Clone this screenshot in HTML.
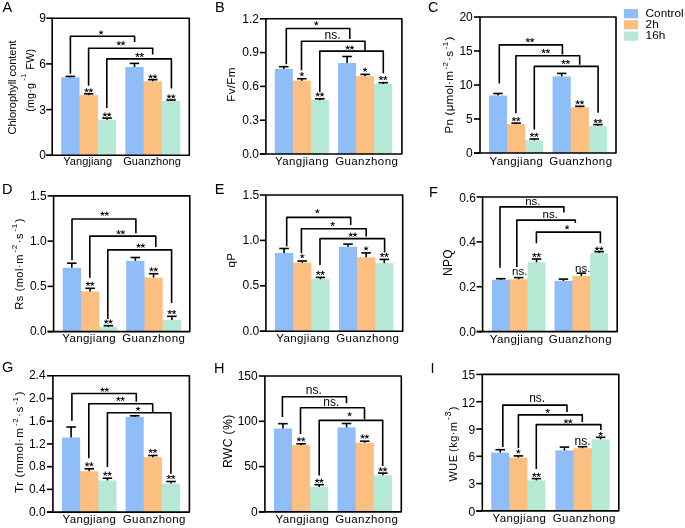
<!DOCTYPE html>
<html><head><meta charset="utf-8"><style>
html,body{margin:0;padding:0;background:#fff;}
svg{display:block;will-change:transform;}
text{font-family:"Liberation Sans", sans-serif;fill:#000;}
</style></head><body>
<svg width="685" height="528" viewBox="0 0 685 528">
<rect width="685" height="528" fill="#fff"/>
<rect x="61.20" y="77.30" width="18.33" height="78.00" fill="#8fbdf7"/>
<rect x="78.53" y="95.10" width="2.00" height="60.20" fill="#8fbdf7"/>
<rect x="79.53" y="95.10" width="18.33" height="60.20" fill="#fdbf80"/>
<rect x="96.86" y="119.70" width="2.00" height="35.60" fill="#fdbf80"/>
<rect x="97.86" y="119.70" width="18.33" height="35.60" fill="#b5e8d5"/>
<rect x="125.30" y="66.90" width="18.33" height="88.40" fill="#8fbdf7"/>
<rect x="142.63" y="81.30" width="2.00" height="74.00" fill="#8fbdf7"/>
<rect x="143.63" y="81.30" width="18.33" height="74.00" fill="#fdbf80"/>
<rect x="160.96" y="101.00" width="2.00" height="54.30" fill="#fdbf80"/>
<rect x="161.96" y="101.00" width="18.33" height="54.30" fill="#b5e8d5"/>
<line x1="70.37" y1="77.30" x2="70.37" y2="76.40" stroke="#000" stroke-width="1.6"/>
<line x1="65.62" y1="76.40" x2="75.12" y2="76.40" stroke="#000" stroke-width="1.6"/>
<line x1="88.69" y1="95.10" x2="88.69" y2="93.80" stroke="#000" stroke-width="1.6"/>
<line x1="83.94" y1="93.80" x2="93.44" y2="93.80" stroke="#000" stroke-width="1.6"/>
<line x1="107.03" y1="119.70" x2="107.03" y2="118.10" stroke="#000" stroke-width="1.6"/>
<line x1="102.28" y1="118.10" x2="111.78" y2="118.10" stroke="#000" stroke-width="1.6"/>
<line x1="134.47" y1="66.90" x2="134.47" y2="63.40" stroke="#000" stroke-width="1.6"/>
<line x1="129.72" y1="63.40" x2="139.22" y2="63.40" stroke="#000" stroke-width="1.6"/>
<line x1="152.79" y1="81.30" x2="152.79" y2="79.70" stroke="#000" stroke-width="1.6"/>
<line x1="148.04" y1="79.70" x2="157.54" y2="79.70" stroke="#000" stroke-width="1.6"/>
<line x1="171.12" y1="101.00" x2="171.12" y2="100.00" stroke="#000" stroke-width="1.6"/>
<line x1="166.37" y1="100.00" x2="175.87" y2="100.00" stroke="#000" stroke-width="1.6"/>
<path d="M46.20 155.30 H189.30 V18.20 H52.20 V155.30" fill="none" stroke="#000" stroke-width="1.6" stroke-linejoin="round" stroke-linecap="butt"/>
<line x1="46.20" y1="155.30" x2="52.20" y2="155.30" stroke="#000" stroke-width="1.6"/>
<text x="45.90" y="159.20" font-size="12.0" text-anchor="end" >0</text>
<line x1="46.20" y1="109.60" x2="52.20" y2="109.60" stroke="#000" stroke-width="1.6"/>
<text x="45.90" y="113.50" font-size="12.0" text-anchor="end" >3</text>
<line x1="46.20" y1="63.90" x2="52.20" y2="63.90" stroke="#000" stroke-width="1.6"/>
<text x="45.90" y="67.80" font-size="12.0" text-anchor="end" >6</text>
<line x1="46.20" y1="18.20" x2="52.20" y2="18.20" stroke="#000" stroke-width="1.6"/>
<text x="45.90" y="22.10" font-size="12.0" text-anchor="end" >9</text>
<path d="M86.54 90.50 L86.54 88.30 M86.54 90.50 L88.64 89.82 M86.54 90.50 L87.84 92.28 M86.54 90.50 L85.25 92.28 M86.54 90.50 L84.45 89.82 " stroke="#000" stroke-width="1.0" fill="none"/>
<path d="M90.84 90.50 L90.84 88.30 M90.84 90.50 L92.94 89.82 M90.84 90.50 L92.14 92.28 M90.84 90.50 L89.55 92.28 M90.84 90.50 L88.75 89.82 " stroke="#000" stroke-width="1.0" fill="none"/>
<path d="M104.88 114.70 L104.88 112.50 M104.88 114.70 L106.97 114.02 M104.88 114.70 L106.17 116.48 M104.88 114.70 L103.58 116.48 M104.88 114.70 L102.78 114.02 " stroke="#000" stroke-width="1.0" fill="none"/>
<path d="M109.18 114.70 L109.18 112.50 M109.18 114.70 L111.27 114.02 M109.18 114.70 L110.47 116.48 M109.18 114.70 L107.88 116.48 M109.18 114.70 L107.08 114.02 " stroke="#000" stroke-width="1.0" fill="none"/>
<path d="M150.64 76.70 L150.64 74.50 M150.64 76.70 L152.74 76.02 M150.64 76.70 L151.94 78.48 M150.64 76.70 L149.35 78.48 M150.64 76.70 L148.55 76.02 " stroke="#000" stroke-width="1.0" fill="none"/>
<path d="M154.94 76.70 L154.94 74.50 M154.94 76.70 L157.04 76.02 M154.94 76.70 L156.24 78.48 M154.94 76.70 L153.65 78.48 M154.94 76.70 L152.85 76.02 " stroke="#000" stroke-width="1.0" fill="none"/>
<path d="M168.97 96.60 L168.97 94.40 M168.97 96.60 L171.07 95.92 M168.97 96.60 L170.27 98.38 M168.97 96.60 L167.68 98.38 M168.97 96.60 L166.88 95.92 " stroke="#000" stroke-width="1.0" fill="none"/>
<path d="M173.27 96.60 L173.27 94.40 M173.27 96.60 L175.37 95.92 M173.27 96.60 L174.57 98.38 M173.27 96.60 L171.98 98.38 M173.27 96.60 L171.18 95.92 " stroke="#000" stroke-width="1.0" fill="none"/>
<path d="M70.40 73.80 V36.30 H134.60 V42.00" fill="none" stroke="#000" stroke-width="1.6" stroke-linejoin="round" stroke-linecap="butt"/>
<path d="M101.10 32.60 L101.10 30.40 M101.10 32.60 L103.19 31.92 M101.10 32.60 L102.39 34.38 M101.10 32.60 L99.81 34.38 M101.10 32.60 L99.01 31.92 " stroke="#000" stroke-width="1.0" fill="none"/>
<path d="M88.60 85.70 V48.20 H152.70 V54.60" fill="none" stroke="#000" stroke-width="1.6" stroke-linejoin="round" stroke-linecap="butt"/>
<path d="M118.85 43.40 L118.85 41.20 M118.85 43.40 L120.94 42.72 M118.85 43.40 L120.14 45.18 M118.85 43.40 L117.56 45.18 M118.85 43.40 L116.76 42.72 " stroke="#000" stroke-width="1.0" fill="none"/>
<path d="M123.15 43.40 L123.15 41.20 M123.15 43.40 L125.24 42.72 M123.15 43.40 L124.44 45.18 M123.15 43.40 L121.86 45.18 M123.15 43.40 L121.06 42.72 " stroke="#000" stroke-width="1.0" fill="none"/>
<path d="M106.80 107.90 V58.90 H171.40 V88.60" fill="none" stroke="#000" stroke-width="1.6" stroke-linejoin="round" stroke-linecap="butt"/>
<path d="M137.45 55.10 L137.45 52.90 M137.45 55.10 L139.54 54.42 M137.45 55.10 L138.74 56.88 M137.45 55.10 L136.16 56.88 M137.45 55.10 L135.36 54.42 " stroke="#000" stroke-width="1.0" fill="none"/>
<path d="M141.75 55.10 L141.75 52.90 M141.75 55.10 L143.84 54.42 M141.75 55.10 L143.04 56.88 M141.75 55.10 L140.46 56.88 M141.75 55.10 L139.66 54.42 " stroke="#000" stroke-width="1.0" fill="none"/>
<text x="87.75" y="165.30" font-size="11.0" text-anchor="middle" letter-spacing="0.1">Yangjiang</text>
<text x="152.05" y="165.30" font-size="11.0" text-anchor="middle" letter-spacing="0.1">Guanzhong</text>
<text x="2.40" y="12.30" font-size="14.5" text-anchor="start" >A</text>
<text x="15.90" y="134.50" font-size="11" text-anchor="start" transform="rotate(-90 15.90 134.50)" letter-spacing="0.0">Chlorophyll content</text>
<text x="34.20" y="111.80" font-size="10.6" text-anchor="start" transform="rotate(-90 34.20 111.80)" letter-spacing="0.25">(mg·g<tspan dx="2.5" dy="-8" font-size="7">-1</tspan><tspan dx="1" dy="8"> FW)</tspan></text>
<rect x="274.80" y="68.90" width="18.03" height="85.10" fill="#8fbdf7"/>
<rect x="291.83" y="80.70" width="2.00" height="73.30" fill="#8fbdf7"/>
<rect x="292.83" y="80.70" width="18.03" height="73.30" fill="#fdbf80"/>
<rect x="309.86" y="100.20" width="2.00" height="53.80" fill="#fdbf80"/>
<rect x="310.86" y="100.20" width="18.03" height="53.80" fill="#b5e8d5"/>
<rect x="338.10" y="63.00" width="18.03" height="91.00" fill="#8fbdf7"/>
<rect x="355.13" y="76.20" width="2.00" height="77.80" fill="#8fbdf7"/>
<rect x="356.13" y="76.20" width="18.03" height="77.80" fill="#fdbf80"/>
<rect x="373.16" y="84.00" width="2.00" height="70.00" fill="#fdbf80"/>
<rect x="374.16" y="84.00" width="18.03" height="70.00" fill="#b5e8d5"/>
<line x1="283.81" y1="68.90" x2="283.81" y2="66.70" stroke="#000" stroke-width="1.6"/>
<line x1="279.06" y1="66.70" x2="288.56" y2="66.70" stroke="#000" stroke-width="1.6"/>
<line x1="301.85" y1="80.70" x2="301.85" y2="78.70" stroke="#000" stroke-width="1.6"/>
<line x1="297.10" y1="78.70" x2="306.60" y2="78.70" stroke="#000" stroke-width="1.6"/>
<line x1="319.88" y1="100.20" x2="319.88" y2="98.80" stroke="#000" stroke-width="1.6"/>
<line x1="315.12" y1="98.80" x2="324.62" y2="98.80" stroke="#000" stroke-width="1.6"/>
<line x1="347.12" y1="63.00" x2="347.12" y2="56.50" stroke="#000" stroke-width="1.6"/>
<line x1="342.37" y1="56.50" x2="351.87" y2="56.50" stroke="#000" stroke-width="1.6"/>
<line x1="365.14" y1="76.20" x2="365.14" y2="74.40" stroke="#000" stroke-width="1.6"/>
<line x1="360.39" y1="74.40" x2="369.89" y2="74.40" stroke="#000" stroke-width="1.6"/>
<line x1="383.18" y1="84.00" x2="383.18" y2="82.70" stroke="#000" stroke-width="1.6"/>
<line x1="378.43" y1="82.70" x2="387.93" y2="82.70" stroke="#000" stroke-width="1.6"/>
<path d="M259.90 154.00 H401.90 V18.80 H265.90 V154.00" fill="none" stroke="#000" stroke-width="1.6" stroke-linejoin="round" stroke-linecap="butt"/>
<line x1="259.90" y1="154.00" x2="265.90" y2="154.00" stroke="#000" stroke-width="1.6"/>
<text x="259.00" y="157.70" font-size="12.0" text-anchor="end" >0.0</text>
<line x1="259.90" y1="120.20" x2="265.90" y2="120.20" stroke="#000" stroke-width="1.6"/>
<text x="259.00" y="123.90" font-size="12.0" text-anchor="end" >0.3</text>
<line x1="259.90" y1="86.40" x2="265.90" y2="86.40" stroke="#000" stroke-width="1.6"/>
<text x="259.00" y="90.10" font-size="12.0" text-anchor="end" >0.6</text>
<line x1="259.90" y1="52.60" x2="265.90" y2="52.60" stroke="#000" stroke-width="1.6"/>
<text x="259.00" y="56.30" font-size="12.0" text-anchor="end" >0.9</text>
<line x1="259.90" y1="18.80" x2="265.90" y2="18.80" stroke="#000" stroke-width="1.6"/>
<text x="259.00" y="22.50" font-size="12.0" text-anchor="end" >1.2</text>
<path d="M301.85 74.30 L301.85 72.10 M301.85 74.30 L303.94 73.62 M301.85 74.30 L303.14 76.08 M301.85 74.30 L300.55 76.08 M301.85 74.30 L299.75 73.62 " stroke="#000" stroke-width="1.0" fill="none"/>
<path d="M317.73 94.60 L317.73 92.40 M317.73 94.60 L319.82 93.92 M317.73 94.60 L319.02 96.38 M317.73 94.60 L316.43 96.38 M317.73 94.60 L315.63 93.92 " stroke="#000" stroke-width="1.0" fill="none"/>
<path d="M322.02 94.60 L322.02 92.40 M322.02 94.60 L324.12 93.92 M322.02 94.60 L323.32 96.38 M322.02 94.60 L320.73 96.38 M322.02 94.60 L319.93 93.92 " stroke="#000" stroke-width="1.0" fill="none"/>
<path d="M365.14 69.80 L365.14 67.60 M365.14 69.80 L367.24 69.12 M365.14 69.80 L366.44 71.58 M365.14 69.80 L363.85 71.58 M365.14 69.80 L363.05 69.12 " stroke="#000" stroke-width="1.0" fill="none"/>
<path d="M381.03 78.20 L381.03 76.00 M381.03 78.20 L383.12 77.52 M381.03 78.20 L382.32 79.98 M381.03 78.20 L379.73 79.98 M381.03 78.20 L378.93 77.52 " stroke="#000" stroke-width="1.0" fill="none"/>
<path d="M385.32 78.20 L385.32 76.00 M385.32 78.20 L387.42 77.52 M385.32 78.20 L386.62 79.98 M385.32 78.20 L384.03 79.98 M385.32 78.20 L383.23 77.52 " stroke="#000" stroke-width="1.0" fill="none"/>
<path d="M286.30 64.30 V28.50 H349.80 V39.10" fill="none" stroke="#000" stroke-width="1.6" stroke-linejoin="round" stroke-linecap="butt"/>
<path d="M316.30 23.50 L316.30 21.30 M316.30 23.50 L318.39 22.82 M316.30 23.50 L317.59 25.28 M316.30 23.50 L315.01 25.28 M316.30 23.50 L314.21 22.82 " stroke="#000" stroke-width="1.0" fill="none"/>
<path d="M301.50 70.30 V41.30 H365.00 V50.50" fill="none" stroke="#000" stroke-width="1.6" stroke-linejoin="round" stroke-linecap="butt"/>
<text x="332.60" y="39.10" font-size="12" text-anchor="middle" >ns.</text>
<path d="M319.80 91.90 V51.10 H383.30 V73.20" fill="none" stroke="#000" stroke-width="1.6" stroke-linejoin="round" stroke-linecap="butt"/>
<path d="M347.65 47.70 L347.65 45.50 M347.65 47.70 L349.74 47.02 M347.65 47.70 L348.94 49.48 M347.65 47.70 L346.36 49.48 M347.65 47.70 L345.56 47.02 " stroke="#000" stroke-width="1.0" fill="none"/>
<path d="M351.95 47.70 L351.95 45.50 M351.95 47.70 L354.04 47.02 M351.95 47.70 L353.24 49.48 M351.95 47.70 L350.66 49.48 M351.95 47.70 L349.86 47.02 " stroke="#000" stroke-width="1.0" fill="none"/>
<text x="302.00" y="165.00" font-size="11.5" text-anchor="middle" letter-spacing="0.4">Yangjiang</text>
<text x="366.70" y="165.00" font-size="11.5" text-anchor="middle" letter-spacing="0.4">Guanzhong</text>
<text x="214.90" y="12.10" font-size="14.5" text-anchor="start" >B</text>
<text x="235.40" y="101.70" font-size="11.6" text-anchor="start" transform="rotate(-90 235.40 101.70)" letter-spacing="0.3">Fv/Fm</text>
<rect x="488.90" y="95.50" width="18.13" height="57.50" fill="#8fbdf7"/>
<rect x="506.03" y="124.20" width="2.00" height="28.80" fill="#8fbdf7"/>
<rect x="507.03" y="124.20" width="18.13" height="28.80" fill="#fdbf80"/>
<rect x="524.16" y="140.40" width="2.00" height="12.60" fill="#fdbf80"/>
<rect x="525.16" y="140.40" width="18.13" height="12.60" fill="#b5e8d5"/>
<rect x="552.60" y="76.40" width="18.13" height="76.60" fill="#8fbdf7"/>
<rect x="569.73" y="107.30" width="2.00" height="45.70" fill="#8fbdf7"/>
<rect x="570.73" y="107.30" width="18.13" height="45.70" fill="#fdbf80"/>
<rect x="587.86" y="126.00" width="2.00" height="27.00" fill="#fdbf80"/>
<rect x="588.86" y="126.00" width="18.13" height="27.00" fill="#b5e8d5"/>
<line x1="497.96" y1="95.50" x2="497.96" y2="93.50" stroke="#000" stroke-width="1.6"/>
<line x1="493.21" y1="93.50" x2="502.71" y2="93.50" stroke="#000" stroke-width="1.6"/>
<line x1="516.10" y1="124.20" x2="516.10" y2="123.10" stroke="#000" stroke-width="1.6"/>
<line x1="511.35" y1="123.10" x2="520.85" y2="123.10" stroke="#000" stroke-width="1.6"/>
<line x1="534.23" y1="140.40" x2="534.23" y2="139.00" stroke="#000" stroke-width="1.6"/>
<line x1="529.48" y1="139.00" x2="538.98" y2="139.00" stroke="#000" stroke-width="1.6"/>
<line x1="561.67" y1="76.40" x2="561.67" y2="73.40" stroke="#000" stroke-width="1.6"/>
<line x1="556.92" y1="73.40" x2="566.42" y2="73.40" stroke="#000" stroke-width="1.6"/>
<line x1="579.80" y1="107.30" x2="579.80" y2="106.30" stroke="#000" stroke-width="1.6"/>
<line x1="575.05" y1="106.30" x2="584.55" y2="106.30" stroke="#000" stroke-width="1.6"/>
<line x1="597.93" y1="126.00" x2="597.93" y2="124.60" stroke="#000" stroke-width="1.6"/>
<line x1="593.18" y1="124.60" x2="602.68" y2="124.60" stroke="#000" stroke-width="1.6"/>
<path d="M474.00 153.00 H616.00 V17.00 H480.00 V153.00" fill="none" stroke="#000" stroke-width="1.6" stroke-linejoin="round" stroke-linecap="butt"/>
<line x1="474.00" y1="153.00" x2="480.00" y2="153.00" stroke="#000" stroke-width="1.6"/>
<text x="472.80" y="156.65" font-size="12.0" text-anchor="end" >0</text>
<line x1="474.00" y1="119.00" x2="480.00" y2="119.00" stroke="#000" stroke-width="1.6"/>
<text x="472.80" y="122.65" font-size="12.0" text-anchor="end" >5</text>
<line x1="474.00" y1="85.00" x2="480.00" y2="85.00" stroke="#000" stroke-width="1.6"/>
<text x="472.80" y="88.65" font-size="12.0" text-anchor="end" >10</text>
<line x1="474.00" y1="51.00" x2="480.00" y2="51.00" stroke="#000" stroke-width="1.6"/>
<text x="472.80" y="54.65" font-size="12.0" text-anchor="end" >15</text>
<line x1="474.00" y1="17.00" x2="480.00" y2="17.00" stroke="#000" stroke-width="1.6"/>
<text x="472.80" y="20.65" font-size="12.0" text-anchor="end" >20</text>
<path d="M513.95 119.30 L513.95 117.10 M513.95 119.30 L516.04 118.62 M513.95 119.30 L515.24 121.08 M513.95 119.30 L512.65 121.08 M513.95 119.30 L511.85 118.62 " stroke="#000" stroke-width="1.0" fill="none"/>
<path d="M518.25 119.30 L518.25 117.10 M518.25 119.30 L520.34 118.62 M518.25 119.30 L519.54 121.08 M518.25 119.30 L516.95 121.08 M518.25 119.30 L516.15 118.62 " stroke="#000" stroke-width="1.0" fill="none"/>
<path d="M532.08 135.00 L532.08 132.80 M532.08 135.00 L534.17 134.32 M532.08 135.00 L533.37 136.78 M532.08 135.00 L530.78 136.78 M532.08 135.00 L529.98 134.32 " stroke="#000" stroke-width="1.0" fill="none"/>
<path d="M536.38 135.00 L536.38 132.80 M536.38 135.00 L538.47 134.32 M536.38 135.00 L537.67 136.78 M536.38 135.00 L535.08 136.78 M536.38 135.00 L534.28 134.32 " stroke="#000" stroke-width="1.0" fill="none"/>
<path d="M577.65 102.50 L577.65 100.30 M577.65 102.50 L579.74 101.82 M577.65 102.50 L578.94 104.28 M577.65 102.50 L576.35 104.28 M577.65 102.50 L575.55 101.82 " stroke="#000" stroke-width="1.0" fill="none"/>
<path d="M581.95 102.50 L581.95 100.30 M581.95 102.50 L584.04 101.82 M581.95 102.50 L583.24 104.28 M581.95 102.50 L580.65 104.28 M581.95 102.50 L579.85 101.82 " stroke="#000" stroke-width="1.0" fill="none"/>
<path d="M595.78 121.20 L595.78 119.00 M595.78 121.20 L597.87 120.52 M595.78 121.20 L597.07 122.98 M595.78 121.20 L594.48 122.98 M595.78 121.20 L593.68 120.52 " stroke="#000" stroke-width="1.0" fill="none"/>
<path d="M600.08 121.20 L600.08 119.00 M600.08 121.20 L602.17 120.52 M600.08 121.20 L601.37 122.98 M600.08 121.20 L598.78 122.98 M600.08 121.20 L597.98 120.52 " stroke="#000" stroke-width="1.0" fill="none"/>
<path d="M499.30 83.40 V44.90 H562.40 V54.50" fill="none" stroke="#000" stroke-width="1.6" stroke-linejoin="round" stroke-linecap="butt"/>
<path d="M527.85 40.30 L527.85 38.10 M527.85 40.30 L529.94 39.62 M527.85 40.30 L529.14 42.08 M527.85 40.30 L526.56 42.08 M527.85 40.30 L525.76 39.62 " stroke="#000" stroke-width="1.0" fill="none"/>
<path d="M532.15 40.30 L532.15 38.10 M532.15 40.30 L534.24 39.62 M532.15 40.30 L533.44 42.08 M532.15 40.30 L530.86 42.08 M532.15 40.30 L530.06 39.62 " stroke="#000" stroke-width="1.0" fill="none"/>
<path d="M515.90 113.20 V55.80 H579.70 V64.70" fill="none" stroke="#000" stroke-width="1.6" stroke-linejoin="round" stroke-linecap="butt"/>
<path d="M543.55 51.30 L543.55 49.10 M543.55 51.30 L545.64 50.62 M543.55 51.30 L544.84 53.08 M543.55 51.30 L542.26 53.08 M543.55 51.30 L541.46 50.62 " stroke="#000" stroke-width="1.0" fill="none"/>
<path d="M547.85 51.30 L547.85 49.10 M547.85 51.30 L549.94 50.62 M547.85 51.30 L549.14 53.08 M547.85 51.30 L546.56 53.08 M547.85 51.30 L545.76 50.62 " stroke="#000" stroke-width="1.0" fill="none"/>
<path d="M534.30 129.40 V66.40 H598.10 V112.80" fill="none" stroke="#000" stroke-width="1.6" stroke-linejoin="round" stroke-linecap="butt"/>
<path d="M563.55 62.10 L563.55 59.90 M563.55 62.10 L565.64 61.42 M563.55 62.10 L564.84 63.88 M563.55 62.10 L562.26 63.88 M563.55 62.10 L561.46 61.42 " stroke="#000" stroke-width="1.0" fill="none"/>
<path d="M567.85 62.10 L567.85 59.90 M567.85 62.10 L569.94 61.42 M567.85 62.10 L569.14 63.88 M567.85 62.10 L566.56 63.88 M567.85 62.10 L565.76 61.42 " stroke="#000" stroke-width="1.0" fill="none"/>
<text x="516.40" y="165.00" font-size="11.5" text-anchor="middle" letter-spacing="0.4">Yangjiang</text>
<text x="580.90" y="165.00" font-size="11.5" text-anchor="middle" letter-spacing="0.4">Guanzhong</text>
<text x="428.00" y="12.40" font-size="14.5" text-anchor="start" >C</text>
<text x="453.30" y="133.60" font-size="11.6" text-anchor="start" transform="rotate(-90 453.30 133.60)" letter-spacing="0.25">Pn (μmol·m<tspan dx="1.5" dy="-5.5" font-size="8">-2</tspan><tspan dx="1" dy="5.5">·s<tspan dx="1.5" dy="-5.5" font-size="8">-1</tspan><tspan dx="1" dy="5.5">)</tspan></tspan></text>
<rect x="62.70" y="267.80" width="18.27" height="63.80" fill="#8fbdf7"/>
<rect x="79.97" y="291.40" width="2.00" height="40.20" fill="#8fbdf7"/>
<rect x="80.97" y="291.40" width="18.27" height="40.20" fill="#fdbf80"/>
<rect x="98.24" y="326.80" width="2.00" height="4.80" fill="#fdbf80"/>
<rect x="99.24" y="326.80" width="18.27" height="4.80" fill="#b5e8d5"/>
<rect x="126.20" y="260.80" width="18.27" height="70.80" fill="#8fbdf7"/>
<rect x="143.47" y="277.60" width="2.00" height="54.00" fill="#8fbdf7"/>
<rect x="144.47" y="277.60" width="18.27" height="54.00" fill="#fdbf80"/>
<rect x="161.74" y="320.00" width="2.00" height="11.60" fill="#fdbf80"/>
<rect x="162.74" y="320.00" width="18.27" height="11.60" fill="#b5e8d5"/>
<line x1="71.84" y1="267.80" x2="71.84" y2="263.20" stroke="#000" stroke-width="1.6"/>
<line x1="67.09" y1="263.20" x2="76.59" y2="263.20" stroke="#000" stroke-width="1.6"/>
<line x1="90.11" y1="291.40" x2="90.11" y2="288.30" stroke="#000" stroke-width="1.6"/>
<line x1="85.36" y1="288.30" x2="94.86" y2="288.30" stroke="#000" stroke-width="1.6"/>
<line x1="108.38" y1="326.80" x2="108.38" y2="325.70" stroke="#000" stroke-width="1.6"/>
<line x1="103.63" y1="325.70" x2="113.13" y2="325.70" stroke="#000" stroke-width="1.6"/>
<line x1="135.34" y1="260.80" x2="135.34" y2="257.50" stroke="#000" stroke-width="1.6"/>
<line x1="130.59" y1="257.50" x2="140.09" y2="257.50" stroke="#000" stroke-width="1.6"/>
<line x1="153.60" y1="277.60" x2="153.60" y2="273.70" stroke="#000" stroke-width="1.6"/>
<line x1="148.85" y1="273.70" x2="158.35" y2="273.70" stroke="#000" stroke-width="1.6"/>
<line x1="171.88" y1="320.00" x2="171.88" y2="316.30" stroke="#000" stroke-width="1.6"/>
<line x1="167.12" y1="316.30" x2="176.62" y2="316.30" stroke="#000" stroke-width="1.6"/>
<path d="M47.60 331.60 H189.80 V195.90 H53.60 V331.60" fill="none" stroke="#000" stroke-width="1.6" stroke-linejoin="round" stroke-linecap="butt"/>
<line x1="47.60" y1="331.60" x2="53.60" y2="331.60" stroke="#000" stroke-width="1.6"/>
<text x="46.60" y="335.20" font-size="12.0" text-anchor="end" >0.0</text>
<line x1="47.60" y1="286.37" x2="53.60" y2="286.37" stroke="#000" stroke-width="1.6"/>
<text x="46.60" y="289.96" font-size="12.0" text-anchor="end" >0.5</text>
<line x1="47.60" y1="241.13" x2="53.60" y2="241.13" stroke="#000" stroke-width="1.6"/>
<text x="46.60" y="244.73" font-size="12.0" text-anchor="end" >1.0</text>
<line x1="47.60" y1="195.90" x2="53.60" y2="195.90" stroke="#000" stroke-width="1.6"/>
<text x="46.60" y="199.50" font-size="12.0" text-anchor="end" >1.5</text>
<path d="M87.95 284.00 L87.95 281.80 M87.95 284.00 L90.05 283.32 M87.95 284.00 L89.25 285.78 M87.95 284.00 L86.66 285.78 M87.95 284.00 L85.86 283.32 " stroke="#000" stroke-width="1.0" fill="none"/>
<path d="M92.26 284.00 L92.26 281.80 M92.26 284.00 L94.35 283.32 M92.26 284.00 L93.55 285.78 M92.26 284.00 L90.96 285.78 M92.26 284.00 L90.16 283.32 " stroke="#000" stroke-width="1.0" fill="none"/>
<path d="M106.23 321.70 L106.23 319.50 M106.23 321.70 L108.32 321.02 M106.23 321.70 L107.52 323.48 M106.23 321.70 L104.93 323.48 M106.23 321.70 L104.13 321.02 " stroke="#000" stroke-width="1.0" fill="none"/>
<path d="M110.53 321.70 L110.53 319.50 M110.53 321.70 L112.62 321.02 M110.53 321.70 L111.82 323.48 M110.53 321.70 L109.23 323.48 M110.53 321.70 L108.43 321.02 " stroke="#000" stroke-width="1.0" fill="none"/>
<path d="M151.45 269.60 L151.45 267.40 M151.45 269.60 L153.55 268.92 M151.45 269.60 L152.75 271.38 M151.45 269.60 L150.16 271.38 M151.45 269.60 L149.36 268.92 " stroke="#000" stroke-width="1.0" fill="none"/>
<path d="M155.75 269.60 L155.75 267.40 M155.75 269.60 L157.85 268.92 M155.75 269.60 L157.05 271.38 M155.75 269.60 L154.46 271.38 M155.75 269.60 L153.66 268.92 " stroke="#000" stroke-width="1.0" fill="none"/>
<path d="M169.72 312.20 L169.72 310.00 M169.72 312.20 L171.82 311.52 M169.72 312.20 L171.02 313.98 M169.72 312.20 L168.43 313.98 M169.72 312.20 L167.63 311.52 " stroke="#000" stroke-width="1.0" fill="none"/>
<path d="M174.03 312.20 L174.03 310.00 M174.03 312.20 L176.12 311.52 M174.03 312.20 L175.32 313.98 M174.03 312.20 L172.73 313.98 M174.03 312.20 L171.93 311.52 " stroke="#000" stroke-width="1.0" fill="none"/>
<path d="M72.00 260.30 V219.00 H135.90 V233.20" fill="none" stroke="#000" stroke-width="1.6" stroke-linejoin="round" stroke-linecap="butt"/>
<path d="M102.45 213.80 L102.45 211.60 M102.45 213.80 L104.54 213.12 M102.45 213.80 L103.74 215.58 M102.45 213.80 L101.16 215.58 M102.45 213.80 L100.36 213.12 " stroke="#000" stroke-width="1.0" fill="none"/>
<path d="M106.75 213.80 L106.75 211.60 M106.75 213.80 L108.84 213.12 M106.75 213.80 L108.04 215.58 M106.75 213.80 L105.46 215.58 M106.75 213.80 L104.66 213.12 " stroke="#000" stroke-width="1.0" fill="none"/>
<path d="M89.80 277.80 V236.10 H155.80 V247.10" fill="none" stroke="#000" stroke-width="1.6" stroke-linejoin="round" stroke-linecap="butt"/>
<path d="M118.55 232.40 L118.55 230.20 M118.55 232.40 L120.64 231.72 M118.55 232.40 L119.84 234.18 M118.55 232.40 L117.26 234.18 M118.55 232.40 L116.46 231.72 " stroke="#000" stroke-width="1.0" fill="none"/>
<path d="M122.85 232.40 L122.85 230.20 M122.85 232.40 L124.94 231.72 M122.85 232.40 L124.14 234.18 M122.85 232.40 L121.56 234.18 M122.85 232.40 L120.76 231.72 " stroke="#000" stroke-width="1.0" fill="none"/>
<path d="M107.80 319.00 V249.90 H171.60 V303.00" fill="none" stroke="#000" stroke-width="1.6" stroke-linejoin="round" stroke-linecap="butt"/>
<path d="M138.55 245.80 L138.55 243.60 M138.55 245.80 L140.64 245.12 M138.55 245.80 L139.84 247.58 M138.55 245.80 L137.26 247.58 M138.55 245.80 L136.46 245.12 " stroke="#000" stroke-width="1.0" fill="none"/>
<path d="M142.85 245.80 L142.85 243.60 M142.85 245.80 L144.94 245.12 M142.85 245.80 L144.14 247.58 M142.85 245.80 L141.56 247.58 M142.85 245.80 L140.76 245.12 " stroke="#000" stroke-width="1.0" fill="none"/>
<text x="89.20" y="341.80" font-size="11.5" text-anchor="middle" letter-spacing="0.4">Yangjiang</text>
<text x="153.70" y="341.80" font-size="11.5" text-anchor="middle" letter-spacing="0.4">Guanzhong</text>
<text x="2.00" y="194.10" font-size="14.5" text-anchor="start" >D</text>
<text x="22.90" y="309.70" font-size="11" text-anchor="start" transform="rotate(-90 22.90 309.70)" letter-spacing="0.55">Rs (mol·m<tspan dx="1.5" dy="-5.5" font-size="8">-2</tspan><tspan dx="1" dy="5.5">·s<tspan dx="1.5" dy="-5.5" font-size="8">-1</tspan><tspan dx="1" dy="5.5">)</tspan></tspan></text>
<rect x="275.00" y="252.90" width="18.17" height="78.30" fill="#8fbdf7"/>
<rect x="292.17" y="262.70" width="2.00" height="68.50" fill="#8fbdf7"/>
<rect x="293.17" y="262.70" width="18.17" height="68.50" fill="#fdbf80"/>
<rect x="310.34" y="279.20" width="2.00" height="52.00" fill="#fdbf80"/>
<rect x="311.34" y="279.20" width="18.17" height="52.00" fill="#b5e8d5"/>
<rect x="338.90" y="246.70" width="18.17" height="84.50" fill="#8fbdf7"/>
<rect x="356.07" y="257.30" width="2.00" height="73.90" fill="#8fbdf7"/>
<rect x="357.07" y="257.30" width="18.17" height="73.90" fill="#fdbf80"/>
<rect x="374.24" y="263.20" width="2.00" height="68.00" fill="#fdbf80"/>
<rect x="375.24" y="263.20" width="18.17" height="68.00" fill="#b5e8d5"/>
<line x1="284.08" y1="252.90" x2="284.08" y2="248.50" stroke="#000" stroke-width="1.6"/>
<line x1="279.33" y1="248.50" x2="288.83" y2="248.50" stroke="#000" stroke-width="1.6"/>
<line x1="302.25" y1="262.70" x2="302.25" y2="261.00" stroke="#000" stroke-width="1.6"/>
<line x1="297.50" y1="261.00" x2="307.00" y2="261.00" stroke="#000" stroke-width="1.6"/>
<line x1="320.43" y1="279.20" x2="320.43" y2="277.40" stroke="#000" stroke-width="1.6"/>
<line x1="315.68" y1="277.40" x2="325.18" y2="277.40" stroke="#000" stroke-width="1.6"/>
<line x1="347.98" y1="246.70" x2="347.98" y2="244.10" stroke="#000" stroke-width="1.6"/>
<line x1="343.23" y1="244.10" x2="352.73" y2="244.10" stroke="#000" stroke-width="1.6"/>
<line x1="366.15" y1="257.30" x2="366.15" y2="252.90" stroke="#000" stroke-width="1.6"/>
<line x1="361.40" y1="252.90" x2="370.90" y2="252.90" stroke="#000" stroke-width="1.6"/>
<line x1="384.32" y1="263.20" x2="384.32" y2="259.40" stroke="#000" stroke-width="1.6"/>
<line x1="379.57" y1="259.40" x2="389.07" y2="259.40" stroke="#000" stroke-width="1.6"/>
<path d="M259.90 331.20 H402.70 V195.00 H265.90 V331.20" fill="none" stroke="#000" stroke-width="1.6" stroke-linejoin="round" stroke-linecap="butt"/>
<line x1="259.90" y1="331.20" x2="265.90" y2="331.20" stroke="#000" stroke-width="1.6"/>
<text x="259.20" y="334.80" font-size="12.0" text-anchor="end" >0.0</text>
<line x1="259.90" y1="285.80" x2="265.90" y2="285.80" stroke="#000" stroke-width="1.6"/>
<text x="259.20" y="289.40" font-size="12.0" text-anchor="end" >0.5</text>
<line x1="259.90" y1="240.40" x2="265.90" y2="240.40" stroke="#000" stroke-width="1.6"/>
<text x="259.20" y="244.00" font-size="12.0" text-anchor="end" >1.0</text>
<line x1="259.90" y1="195.00" x2="265.90" y2="195.00" stroke="#000" stroke-width="1.6"/>
<text x="259.20" y="198.60" font-size="12.0" text-anchor="end" >1.5</text>
<path d="M302.25 256.30 L302.25 254.10 M302.25 256.30 L304.35 255.62 M302.25 256.30 L303.55 258.08 M302.25 256.30 L300.96 258.08 M302.25 256.30 L300.16 255.62 " stroke="#000" stroke-width="1.0" fill="none"/>
<path d="M318.28 273.10 L318.28 270.90 M318.28 273.10 L320.37 272.42 M318.28 273.10 L319.57 274.88 M318.28 273.10 L316.98 274.88 M318.28 273.10 L316.18 272.42 " stroke="#000" stroke-width="1.0" fill="none"/>
<path d="M322.57 273.10 L322.57 270.90 M322.57 273.10 L324.67 272.42 M322.57 273.10 L323.87 274.88 M322.57 273.10 L321.28 274.88 M322.57 273.10 L320.48 272.42 " stroke="#000" stroke-width="1.0" fill="none"/>
<path d="M366.15 248.60 L366.15 246.40 M366.15 248.60 L368.25 247.92 M366.15 248.60 L367.45 250.38 M366.15 248.60 L364.86 250.38 M366.15 248.60 L364.06 247.92 " stroke="#000" stroke-width="1.0" fill="none"/>
<path d="M382.18 255.10 L382.18 252.90 M382.18 255.10 L384.27 254.42 M382.18 255.10 L383.47 256.88 M382.18 255.10 L380.88 256.88 M382.18 255.10 L380.08 254.42 " stroke="#000" stroke-width="1.0" fill="none"/>
<path d="M386.47 255.10 L386.47 252.90 M386.47 255.10 L388.57 254.42 M386.47 255.10 L387.77 256.88 M386.47 255.10 L385.18 256.88 M386.47 255.10 L384.38 254.42 " stroke="#000" stroke-width="1.0" fill="none"/>
<path d="M286.70 246.30 V217.40 H350.70 V224.90" fill="none" stroke="#000" stroke-width="1.6" stroke-linejoin="round" stroke-linecap="butt"/>
<path d="M317.40 211.40 L317.40 209.20 M317.40 211.40 L319.49 210.72 M317.40 211.40 L318.69 213.18 M317.40 211.40 L316.11 213.18 M317.40 211.40 L315.31 210.72 " stroke="#000" stroke-width="1.0" fill="none"/>
<path d="M301.40 253.30 V228.80 H366.20 V236.50" fill="none" stroke="#000" stroke-width="1.6" stroke-linejoin="round" stroke-linecap="butt"/>
<path d="M332.70 224.10 L332.70 221.90 M332.70 224.10 L334.79 223.42 M332.70 224.10 L333.99 225.88 M332.70 224.10 L331.41 225.88 M332.70 224.10 L330.61 223.42 " stroke="#000" stroke-width="1.0" fill="none"/>
<path d="M320.00 264.90 V238.60 H384.60 V252.40" fill="none" stroke="#000" stroke-width="1.6" stroke-linejoin="round" stroke-linecap="butt"/>
<path d="M350.75 234.80 L350.75 232.60 M350.75 234.80 L352.84 234.12 M350.75 234.80 L352.04 236.58 M350.75 234.80 L349.46 236.58 M350.75 234.80 L348.66 234.12 " stroke="#000" stroke-width="1.0" fill="none"/>
<path d="M355.05 234.80 L355.05 232.60 M355.05 234.80 L357.14 234.12 M355.05 234.80 L356.34 236.58 M355.05 234.80 L353.76 236.58 M355.05 234.80 L352.96 234.12 " stroke="#000" stroke-width="1.0" fill="none"/>
<text x="303.20" y="342.40" font-size="11.5" text-anchor="middle" letter-spacing="0.4">Yangjiang</text>
<text x="367.70" y="342.40" font-size="11.5" text-anchor="middle" letter-spacing="0.4">Guanzhong</text>
<text x="214.80" y="194.10" font-size="14.5" text-anchor="start" >E</text>
<text x="234.80" y="267.50" font-size="11.6" text-anchor="start" transform="rotate(-90 234.80 267.50)" letter-spacing="0.3">qP</text>
<rect x="491.90" y="279.80" width="17.87" height="51.80" fill="#8fbdf7"/>
<rect x="508.77" y="279.80" width="2.00" height="51.80" fill="#8fbdf7"/>
<rect x="509.77" y="279.30" width="17.87" height="52.30" fill="#fdbf80"/>
<rect x="526.64" y="279.30" width="2.00" height="52.30" fill="#fdbf80"/>
<rect x="527.64" y="262.30" width="17.87" height="69.30" fill="#b5e8d5"/>
<rect x="554.50" y="280.90" width="17.87" height="50.70" fill="#8fbdf7"/>
<rect x="571.37" y="280.90" width="2.00" height="50.70" fill="#8fbdf7"/>
<rect x="572.37" y="276.10" width="17.87" height="55.50" fill="#fdbf80"/>
<rect x="589.24" y="276.10" width="2.00" height="55.50" fill="#fdbf80"/>
<rect x="590.24" y="253.10" width="17.87" height="78.50" fill="#b5e8d5"/>
<line x1="500.83" y1="279.80" x2="500.83" y2="278.70" stroke="#000" stroke-width="1.6"/>
<line x1="496.08" y1="278.70" x2="505.58" y2="278.70" stroke="#000" stroke-width="1.6"/>
<line x1="518.70" y1="279.30" x2="518.70" y2="277.60" stroke="#000" stroke-width="1.6"/>
<line x1="513.95" y1="277.60" x2="523.45" y2="277.60" stroke="#000" stroke-width="1.6"/>
<line x1="536.57" y1="262.30" x2="536.57" y2="259.00" stroke="#000" stroke-width="1.6"/>
<line x1="531.82" y1="259.00" x2="541.32" y2="259.00" stroke="#000" stroke-width="1.6"/>
<line x1="563.43" y1="280.90" x2="563.43" y2="279.10" stroke="#000" stroke-width="1.6"/>
<line x1="558.68" y1="279.10" x2="568.18" y2="279.10" stroke="#000" stroke-width="1.6"/>
<line x1="581.30" y1="276.10" x2="581.30" y2="273.20" stroke="#000" stroke-width="1.6"/>
<line x1="576.55" y1="273.20" x2="586.05" y2="273.20" stroke="#000" stroke-width="1.6"/>
<line x1="599.17" y1="253.10" x2="599.17" y2="251.70" stroke="#000" stroke-width="1.6"/>
<line x1="594.42" y1="251.70" x2="603.92" y2="251.70" stroke="#000" stroke-width="1.6"/>
<path d="M476.60 331.60 H617.20 V197.00 H482.60 V331.60" fill="none" stroke="#000" stroke-width="1.6" stroke-linejoin="round" stroke-linecap="butt"/>
<line x1="476.60" y1="331.60" x2="482.60" y2="331.60" stroke="#000" stroke-width="1.6"/>
<text x="476.00" y="336.10" font-size="12.0" text-anchor="end" >0.0</text>
<line x1="476.60" y1="286.73" x2="482.60" y2="286.73" stroke="#000" stroke-width="1.6"/>
<text x="476.00" y="291.23" font-size="12.0" text-anchor="end" >0.2</text>
<line x1="476.60" y1="241.87" x2="482.60" y2="241.87" stroke="#000" stroke-width="1.6"/>
<text x="476.00" y="246.36" font-size="12.0" text-anchor="end" >0.4</text>
<line x1="476.60" y1="197.00" x2="482.60" y2="197.00" stroke="#000" stroke-width="1.6"/>
<text x="476.00" y="201.50" font-size="12.0" text-anchor="end" >0.6</text>
<text x="519.70" y="275.40" font-size="11.5" text-anchor="middle" >ns.</text>
<path d="M534.42 255.10 L534.42 252.90 M534.42 255.10 L536.52 254.42 M534.42 255.10 L535.72 256.88 M534.42 255.10 L533.13 256.88 M534.42 255.10 L532.33 254.42 " stroke="#000" stroke-width="1.0" fill="none"/>
<path d="M538.72 255.10 L538.72 252.90 M538.72 255.10 L540.82 254.42 M538.72 255.10 L540.02 256.88 M538.72 255.10 L537.43 256.88 M538.72 255.10 L536.63 254.42 " stroke="#000" stroke-width="1.0" fill="none"/>
<text x="582.70" y="271.70" font-size="11.5" text-anchor="middle" >ns.</text>
<path d="M597.02 248.80 L597.02 246.60 M597.02 248.80 L599.12 248.12 M597.02 248.80 L598.32 250.58 M597.02 248.80 L595.73 250.58 M597.02 248.80 L594.93 248.12 " stroke="#000" stroke-width="1.0" fill="none"/>
<path d="M601.32 248.80 L601.32 246.60 M601.32 248.80 L603.42 248.12 M601.32 248.80 L602.62 250.58 M601.32 248.80 L600.03 250.58 M601.32 248.80 L599.23 248.12 " stroke="#000" stroke-width="1.0" fill="none"/>
<path d="M500.00 267.70 V206.90 H563.90 V212.50" fill="none" stroke="#000" stroke-width="1.6" stroke-linejoin="round" stroke-linecap="butt"/>
<text x="532.90" y="205.00" font-size="11.5" text-anchor="middle" >ns.</text>
<path d="M516.80 267.10 V220.10 H575.30 V222.70" fill="none" stroke="#000" stroke-width="1.6" stroke-linejoin="round" stroke-linecap="butt"/>
<text x="550.20" y="218.30" font-size="11.5" text-anchor="middle" >ns.</text>
<path d="M536.40 243.20 V232.10 H600.40 V243.20" fill="none" stroke="#000" stroke-width="1.6" stroke-linejoin="round" stroke-linecap="butt"/>
<path d="M567.10 227.50 L567.10 225.30 M567.10 227.50 L569.19 226.82 M567.10 227.50 L568.39 229.28 M567.10 227.50 L565.81 229.28 M567.10 227.50 L565.01 226.82 " stroke="#000" stroke-width="1.0" fill="none"/>
<text x="516.70" y="343.00" font-size="11.5" text-anchor="middle" letter-spacing="0.4">Yangjiang</text>
<text x="580.40" y="343.00" font-size="11.5" text-anchor="middle" letter-spacing="0.4">Guanzhong</text>
<text x="429.10" y="196.80" font-size="14.5" text-anchor="start" >F</text>
<text x="452.30" y="276.00" font-size="12" text-anchor="start" transform="rotate(-90 452.30 276.00)" letter-spacing="0.3">NPQ</text>
<rect x="62.00" y="437.50" width="18.17" height="74.60" fill="#8fbdf7"/>
<rect x="79.17" y="471.20" width="2.00" height="40.90" fill="#8fbdf7"/>
<rect x="80.17" y="471.20" width="18.17" height="40.90" fill="#fdbf80"/>
<rect x="97.34" y="480.40" width="2.00" height="31.70" fill="#fdbf80"/>
<rect x="98.34" y="480.40" width="18.17" height="31.70" fill="#b5e8d5"/>
<rect x="125.60" y="416.90" width="18.17" height="95.20" fill="#8fbdf7"/>
<rect x="142.77" y="457.20" width="2.00" height="54.90" fill="#8fbdf7"/>
<rect x="143.77" y="457.20" width="18.17" height="54.90" fill="#fdbf80"/>
<rect x="160.94" y="483.60" width="2.00" height="28.50" fill="#fdbf80"/>
<rect x="161.94" y="483.60" width="18.17" height="28.50" fill="#b5e8d5"/>
<line x1="71.09" y1="437.50" x2="71.09" y2="427.00" stroke="#000" stroke-width="1.6"/>
<line x1="66.34" y1="427.00" x2="75.84" y2="427.00" stroke="#000" stroke-width="1.6"/>
<line x1="89.25" y1="471.20" x2="89.25" y2="468.80" stroke="#000" stroke-width="1.6"/>
<line x1="84.50" y1="468.80" x2="94.00" y2="468.80" stroke="#000" stroke-width="1.6"/>
<line x1="107.43" y1="480.40" x2="107.43" y2="478.20" stroke="#000" stroke-width="1.6"/>
<line x1="102.68" y1="478.20" x2="112.18" y2="478.20" stroke="#000" stroke-width="1.6"/>
<line x1="134.69" y1="416.90" x2="134.69" y2="415.80" stroke="#000" stroke-width="1.6"/>
<line x1="129.94" y1="415.80" x2="139.44" y2="415.80" stroke="#000" stroke-width="1.6"/>
<line x1="152.85" y1="457.20" x2="152.85" y2="455.50" stroke="#000" stroke-width="1.6"/>
<line x1="148.10" y1="455.50" x2="157.60" y2="455.50" stroke="#000" stroke-width="1.6"/>
<line x1="171.03" y1="483.60" x2="171.03" y2="481.50" stroke="#000" stroke-width="1.6"/>
<line x1="166.28" y1="481.50" x2="175.78" y2="481.50" stroke="#000" stroke-width="1.6"/>
<path d="M46.90 512.10 H189.40 V375.80 H52.90 V512.10" fill="none" stroke="#000" stroke-width="1.6" stroke-linejoin="round" stroke-linecap="butt"/>
<line x1="46.90" y1="512.10" x2="52.90" y2="512.10" stroke="#000" stroke-width="1.6"/>
<text x="45.60" y="515.70" font-size="12.0" text-anchor="end" >0.0</text>
<line x1="46.90" y1="489.38" x2="52.90" y2="489.38" stroke="#000" stroke-width="1.6"/>
<text x="45.60" y="492.98" font-size="12.0" text-anchor="end" >0.4</text>
<line x1="46.90" y1="466.67" x2="52.90" y2="466.67" stroke="#000" stroke-width="1.6"/>
<text x="45.60" y="470.26" font-size="12.0" text-anchor="end" >0.8</text>
<line x1="46.90" y1="443.95" x2="52.90" y2="443.95" stroke="#000" stroke-width="1.6"/>
<text x="45.60" y="447.55" font-size="12.0" text-anchor="end" >1.2</text>
<line x1="46.90" y1="421.23" x2="52.90" y2="421.23" stroke="#000" stroke-width="1.6"/>
<text x="45.60" y="424.83" font-size="12.0" text-anchor="end" >1.6</text>
<line x1="46.90" y1="398.52" x2="52.90" y2="398.52" stroke="#000" stroke-width="1.6"/>
<text x="45.60" y="402.11" font-size="12.0" text-anchor="end" >2.0</text>
<line x1="46.90" y1="375.80" x2="52.90" y2="375.80" stroke="#000" stroke-width="1.6"/>
<text x="45.60" y="379.40" font-size="12.0" text-anchor="end" >2.4</text>
<path d="M87.10 464.50 L87.10 462.30 M87.10 464.50 L89.20 463.82 M87.10 464.50 L88.40 466.28 M87.10 464.50 L85.81 466.28 M87.10 464.50 L85.01 463.82 " stroke="#000" stroke-width="1.0" fill="none"/>
<path d="M91.41 464.50 L91.41 462.30 M91.41 464.50 L93.50 463.82 M91.41 464.50 L92.70 466.28 M91.41 464.50 L90.11 466.28 M91.41 464.50 L89.31 463.82 " stroke="#000" stroke-width="1.0" fill="none"/>
<path d="M105.28 473.90 L105.28 471.70 M105.28 473.90 L107.37 473.22 M105.28 473.90 L106.57 475.68 M105.28 473.90 L103.98 475.68 M105.28 473.90 L103.18 473.22 " stroke="#000" stroke-width="1.0" fill="none"/>
<path d="M109.58 473.90 L109.58 471.70 M109.58 473.90 L111.67 473.22 M109.58 473.90 L110.87 475.68 M109.58 473.90 L108.28 475.68 M109.58 473.90 L107.48 473.22 " stroke="#000" stroke-width="1.0" fill="none"/>
<path d="M150.70 451.10 L150.70 448.90 M150.70 451.10 L152.80 450.42 M150.70 451.10 L152.00 452.88 M150.70 451.10 L149.41 452.88 M150.70 451.10 L148.61 450.42 " stroke="#000" stroke-width="1.0" fill="none"/>
<path d="M155.00 451.10 L155.00 448.90 M155.00 451.10 L157.10 450.42 M155.00 451.10 L156.30 452.88 M155.00 451.10 L153.71 452.88 M155.00 451.10 L152.91 450.42 " stroke="#000" stroke-width="1.0" fill="none"/>
<path d="M168.88 477.10 L168.88 474.90 M168.88 477.10 L170.97 476.42 M168.88 477.10 L170.17 478.88 M168.88 477.10 L167.58 478.88 M168.88 477.10 L166.78 476.42 " stroke="#000" stroke-width="1.0" fill="none"/>
<path d="M173.18 477.10 L173.18 474.90 M173.18 477.10 L175.27 476.42 M173.18 477.10 L174.47 478.88 M173.18 477.10 L171.88 478.88 M173.18 477.10 L171.08 476.42 " stroke="#000" stroke-width="1.0" fill="none"/>
<path d="M71.90 420.80 V393.50 H136.30 V401.80" fill="none" stroke="#000" stroke-width="1.6" stroke-linejoin="round" stroke-linecap="butt"/>
<path d="M102.45 389.80 L102.45 387.60 M102.45 389.80 L104.54 389.12 M102.45 389.80 L103.74 391.58 M102.45 389.80 L101.16 391.58 M102.45 389.80 L100.36 389.12 " stroke="#000" stroke-width="1.0" fill="none"/>
<path d="M106.75 389.80 L106.75 387.60 M106.75 389.80 L108.84 389.12 M106.75 389.80 L108.04 391.58 M106.75 389.80 L105.46 391.58 M106.75 389.80 L104.66 389.12 " stroke="#000" stroke-width="1.0" fill="none"/>
<path d="M88.80 458.30 V403.80 H152.70 V412.10" fill="none" stroke="#000" stroke-width="1.6" stroke-linejoin="round" stroke-linecap="butt"/>
<path d="M118.35 399.00 L118.35 396.80 M118.35 399.00 L120.44 398.32 M118.35 399.00 L119.64 400.78 M118.35 399.00 L117.06 400.78 M118.35 399.00 L116.26 398.32 " stroke="#000" stroke-width="1.0" fill="none"/>
<path d="M122.65 399.00 L122.65 396.80 M122.65 399.00 L124.74 398.32 M122.65 399.00 L123.94 400.78 M122.65 399.00 L121.36 400.78 M122.65 399.00 L120.56 398.32 " stroke="#000" stroke-width="1.0" fill="none"/>
<path d="M107.40 467.00 V412.70 H170.90 V473.80" fill="none" stroke="#000" stroke-width="1.6" stroke-linejoin="round" stroke-linecap="butt"/>
<path d="M138.10 408.90 L138.10 406.70 M138.10 408.90 L140.19 408.22 M138.10 408.90 L139.39 410.68 M138.10 408.90 L136.81 410.68 M138.10 408.90 L136.01 408.22 " stroke="#000" stroke-width="1.0" fill="none"/>
<text x="89.40" y="522.60" font-size="11.5" text-anchor="middle" letter-spacing="0.4">Yangjiang</text>
<text x="154.30" y="522.60" font-size="11.5" text-anchor="middle" letter-spacing="0.4">Guanzhong</text>
<text x="1.90" y="372.30" font-size="14.5" text-anchor="start" >G</text>
<text x="23.20" y="493.00" font-size="11.8" text-anchor="start" transform="rotate(-90 23.20 493.00)" letter-spacing="0.5">Tr (mmol·m<tspan dx="1.5" dy="-5.5" font-size="8">-2</tspan><tspan dx="1" dy="5.5">·s<tspan dx="1.5" dy="-5.5" font-size="8">-1</tspan><tspan dx="1" dy="5.5">)</tspan></tspan></text>
<rect x="273.90" y="428.50" width="18.13" height="83.40" fill="#8fbdf7"/>
<rect x="291.03" y="445.20" width="2.00" height="66.70" fill="#8fbdf7"/>
<rect x="292.03" y="445.20" width="18.13" height="66.70" fill="#fdbf80"/>
<rect x="309.16" y="486.90" width="2.00" height="25.00" fill="#fdbf80"/>
<rect x="310.16" y="486.90" width="18.13" height="25.00" fill="#b5e8d5"/>
<rect x="337.50" y="427.40" width="18.13" height="84.50" fill="#8fbdf7"/>
<rect x="354.63" y="442.80" width="2.00" height="69.10" fill="#8fbdf7"/>
<rect x="355.63" y="442.80" width="18.13" height="69.10" fill="#fdbf80"/>
<rect x="372.76" y="475.30" width="2.00" height="36.60" fill="#fdbf80"/>
<rect x="373.76" y="475.30" width="18.13" height="36.60" fill="#b5e8d5"/>
<line x1="282.96" y1="428.50" x2="282.96" y2="423.70" stroke="#000" stroke-width="1.6"/>
<line x1="278.21" y1="423.70" x2="287.71" y2="423.70" stroke="#000" stroke-width="1.6"/>
<line x1="301.09" y1="445.20" x2="301.09" y2="443.80" stroke="#000" stroke-width="1.6"/>
<line x1="296.34" y1="443.80" x2="305.84" y2="443.80" stroke="#000" stroke-width="1.6"/>
<line x1="319.22" y1="486.90" x2="319.22" y2="484.70" stroke="#000" stroke-width="1.6"/>
<line x1="314.47" y1="484.70" x2="323.97" y2="484.70" stroke="#000" stroke-width="1.6"/>
<line x1="346.56" y1="427.40" x2="346.56" y2="423.50" stroke="#000" stroke-width="1.6"/>
<line x1="341.81" y1="423.50" x2="351.31" y2="423.50" stroke="#000" stroke-width="1.6"/>
<line x1="364.69" y1="442.80" x2="364.69" y2="441.20" stroke="#000" stroke-width="1.6"/>
<line x1="359.94" y1="441.20" x2="369.44" y2="441.20" stroke="#000" stroke-width="1.6"/>
<line x1="382.82" y1="475.30" x2="382.82" y2="473.10" stroke="#000" stroke-width="1.6"/>
<line x1="378.07" y1="473.10" x2="387.57" y2="473.10" stroke="#000" stroke-width="1.6"/>
<path d="M258.90 511.90 H401.30 V376.00 H264.90 V511.90" fill="none" stroke="#000" stroke-width="1.6" stroke-linejoin="round" stroke-linecap="butt"/>
<line x1="258.90" y1="511.90" x2="264.90" y2="511.90" stroke="#000" stroke-width="1.6"/>
<text x="257.70" y="515.50" font-size="12.0" text-anchor="end" >0</text>
<line x1="258.90" y1="466.60" x2="264.90" y2="466.60" stroke="#000" stroke-width="1.6"/>
<text x="257.70" y="470.20" font-size="12.0" text-anchor="end" >50</text>
<line x1="258.90" y1="421.30" x2="264.90" y2="421.30" stroke="#000" stroke-width="1.6"/>
<text x="257.70" y="424.90" font-size="12.0" text-anchor="end" >100</text>
<line x1="258.90" y1="376.00" x2="264.90" y2="376.00" stroke="#000" stroke-width="1.6"/>
<text x="257.70" y="379.60" font-size="12.0" text-anchor="end" >150</text>
<path d="M298.94 439.50 L298.94 437.30 M298.94 439.50 L301.04 438.82 M298.94 439.50 L300.24 441.28 M298.94 439.50 L297.65 441.28 M298.94 439.50 L296.85 438.82 " stroke="#000" stroke-width="1.0" fill="none"/>
<path d="M303.24 439.50 L303.24 437.30 M303.24 439.50 L305.34 438.82 M303.24 439.50 L304.54 441.28 M303.24 439.50 L301.95 441.28 M303.24 439.50 L301.15 438.82 " stroke="#000" stroke-width="1.0" fill="none"/>
<path d="M317.07 480.90 L317.07 478.70 M317.07 480.90 L319.17 480.22 M317.07 480.90 L318.37 482.68 M317.07 480.90 L315.78 482.68 M317.07 480.90 L314.98 480.22 " stroke="#000" stroke-width="1.0" fill="none"/>
<path d="M321.37 480.90 L321.37 478.70 M321.37 480.90 L323.47 480.22 M321.37 480.90 L322.67 482.68 M321.37 480.90 L320.08 482.68 M321.37 480.90 L319.28 480.22 " stroke="#000" stroke-width="1.0" fill="none"/>
<path d="M362.55 436.70 L362.55 434.50 M362.55 436.70 L364.64 436.02 M362.55 436.70 L363.84 438.48 M362.55 436.70 L361.25 438.48 M362.55 436.70 L360.45 436.02 " stroke="#000" stroke-width="1.0" fill="none"/>
<path d="M366.84 436.70 L366.84 434.50 M366.84 436.70 L368.94 436.02 M366.84 436.70 L368.14 438.48 M366.84 436.70 L365.55 438.48 M366.84 436.70 L364.75 436.02 " stroke="#000" stroke-width="1.0" fill="none"/>
<path d="M380.68 469.50 L380.68 467.30 M380.68 469.50 L382.77 468.82 M380.68 469.50 L381.97 471.28 M380.68 469.50 L379.38 471.28 M380.68 469.50 L378.58 468.82 " stroke="#000" stroke-width="1.0" fill="none"/>
<path d="M384.97 469.50 L384.97 467.30 M384.97 469.50 L387.07 468.82 M384.97 469.50 L386.27 471.28 M384.97 469.50 L383.68 471.28 M384.97 469.50 L382.88 468.82 " stroke="#000" stroke-width="1.0" fill="none"/>
<path d="M282.40 416.90 V396.70 H346.50 V403.30" fill="none" stroke="#000" stroke-width="1.6" stroke-linejoin="round" stroke-linecap="butt"/>
<text x="313.80" y="393.90" font-size="12" text-anchor="middle" >ns.</text>
<path d="M300.50 434.00 V407.70 H364.50 V419.30" fill="none" stroke="#000" stroke-width="1.6" stroke-linejoin="round" stroke-linecap="butt"/>
<text x="331.30" y="405.50" font-size="12" text-anchor="middle" >ns.</text>
<path d="M319.20 475.50 V420.40 H382.70 V466.10" fill="none" stroke="#000" stroke-width="1.6" stroke-linejoin="round" stroke-linecap="butt"/>
<path d="M349.60 414.40 L349.60 412.20 M349.60 414.40 L351.69 413.72 M349.60 414.40 L350.89 416.18 M349.60 414.40 L348.31 416.18 M349.60 414.40 L347.51 413.72 " stroke="#000" stroke-width="1.0" fill="none"/>
<text x="302.40" y="522.60" font-size="11.5" text-anchor="middle" letter-spacing="0.4">Yangjiang</text>
<text x="366.70" y="522.60" font-size="11.5" text-anchor="middle" letter-spacing="0.4">Guanzhong</text>
<text x="213.90" y="372.70" font-size="14.5" text-anchor="start" >H</text>
<text x="231.90" y="468.10" font-size="12.2" text-anchor="start" transform="rotate(-90 231.90 468.10)" letter-spacing="0.35">RWC (%)</text>
<rect x="491.20" y="452.60" width="18.10" height="58.30" fill="#8fbdf7"/>
<rect x="508.30" y="457.60" width="2.00" height="53.30" fill="#8fbdf7"/>
<rect x="509.30" y="457.60" width="18.10" height="53.30" fill="#fdbf80"/>
<rect x="526.40" y="480.40" width="2.00" height="30.50" fill="#fdbf80"/>
<rect x="527.40" y="480.40" width="18.10" height="30.50" fill="#b5e8d5"/>
<rect x="555.40" y="450.40" width="18.10" height="60.50" fill="#8fbdf7"/>
<rect x="572.50" y="450.40" width="2.00" height="60.50" fill="#8fbdf7"/>
<rect x="573.50" y="448.20" width="18.10" height="62.70" fill="#fdbf80"/>
<rect x="590.60" y="448.20" width="2.00" height="62.70" fill="#fdbf80"/>
<rect x="591.60" y="439.40" width="18.10" height="71.50" fill="#b5e8d5"/>
<line x1="500.25" y1="452.60" x2="500.25" y2="449.70" stroke="#000" stroke-width="1.6"/>
<line x1="495.50" y1="449.70" x2="505.00" y2="449.70" stroke="#000" stroke-width="1.6"/>
<line x1="518.35" y1="457.60" x2="518.35" y2="455.90" stroke="#000" stroke-width="1.6"/>
<line x1="513.60" y1="455.90" x2="523.10" y2="455.90" stroke="#000" stroke-width="1.6"/>
<line x1="536.45" y1="480.40" x2="536.45" y2="478.60" stroke="#000" stroke-width="1.6"/>
<line x1="531.70" y1="478.60" x2="541.20" y2="478.60" stroke="#000" stroke-width="1.6"/>
<line x1="564.45" y1="450.40" x2="564.45" y2="447.10" stroke="#000" stroke-width="1.6"/>
<line x1="559.70" y1="447.10" x2="569.20" y2="447.10" stroke="#000" stroke-width="1.6"/>
<line x1="582.55" y1="448.20" x2="582.55" y2="446.70" stroke="#000" stroke-width="1.6"/>
<line x1="577.80" y1="446.70" x2="587.30" y2="446.70" stroke="#000" stroke-width="1.6"/>
<line x1="600.65" y1="439.40" x2="600.65" y2="437.30" stroke="#000" stroke-width="1.6"/>
<line x1="595.90" y1="437.30" x2="605.40" y2="437.30" stroke="#000" stroke-width="1.6"/>
<path d="M476.30 510.90 H618.80 V374.40 H482.30 V510.90" fill="none" stroke="#000" stroke-width="1.6" stroke-linejoin="round" stroke-linecap="butt"/>
<line x1="476.30" y1="510.90" x2="482.30" y2="510.90" stroke="#000" stroke-width="1.6"/>
<text x="475.10" y="515.70" font-size="12.0" text-anchor="end" >0</text>
<line x1="476.30" y1="483.60" x2="482.30" y2="483.60" stroke="#000" stroke-width="1.6"/>
<text x="475.10" y="488.40" font-size="12.0" text-anchor="end" >3</text>
<line x1="476.30" y1="456.30" x2="482.30" y2="456.30" stroke="#000" stroke-width="1.6"/>
<text x="475.10" y="461.10" font-size="12.0" text-anchor="end" >6</text>
<line x1="476.30" y1="429.00" x2="482.30" y2="429.00" stroke="#000" stroke-width="1.6"/>
<text x="475.10" y="433.80" font-size="12.0" text-anchor="end" >9</text>
<line x1="476.30" y1="401.70" x2="482.30" y2="401.70" stroke="#000" stroke-width="1.6"/>
<text x="475.10" y="406.50" font-size="12.0" text-anchor="end" >12</text>
<line x1="476.30" y1="374.40" x2="482.30" y2="374.40" stroke="#000" stroke-width="1.6"/>
<text x="475.10" y="379.20" font-size="12.0" text-anchor="end" >15</text>
<path d="M518.35 451.60 L518.35 449.40 M518.35 451.60 L520.44 450.92 M518.35 451.60 L519.64 453.38 M518.35 451.60 L517.06 453.38 M518.35 451.60 L516.26 450.92 " stroke="#000" stroke-width="1.0" fill="none"/>
<path d="M534.30 475.00 L534.30 472.80 M534.30 475.00 L536.39 474.32 M534.30 475.00 L535.59 476.78 M534.30 475.00 L533.01 476.78 M534.30 475.00 L532.21 474.32 " stroke="#000" stroke-width="1.0" fill="none"/>
<path d="M538.60 475.00 L538.60 472.80 M538.60 475.00 L540.69 474.32 M538.60 475.00 L539.89 476.78 M538.60 475.00 L537.31 476.78 M538.60 475.00 L536.51 474.32 " stroke="#000" stroke-width="1.0" fill="none"/>
<text x="582.55" y="444.90" font-size="12" text-anchor="middle" >ns.</text>
<path d="M600.65 434.10 L600.65 431.90 M600.65 434.10 L602.74 433.42 M600.65 434.10 L601.94 435.88 M600.65 434.10 L599.36 435.88 M600.65 434.10 L598.56 433.42 " stroke="#000" stroke-width="1.0" fill="none"/>
<path d="M502.80 447.00 V405.10 H567.00 V412.10" fill="none" stroke="#000" stroke-width="1.6" stroke-linejoin="round" stroke-linecap="butt"/>
<text x="537.20" y="401.80" font-size="12" text-anchor="middle" >ns.</text>
<path d="M518.40 448.00 V414.90 H582.30 V421.90" fill="none" stroke="#000" stroke-width="1.6" stroke-linejoin="round" stroke-linecap="butt"/>
<path d="M547.70 411.10 L547.70 408.90 M547.70 411.10 L549.79 410.42 M547.70 411.10 L548.99 412.88 M547.70 411.10 L546.41 412.88 M547.70 411.10 L545.61 410.42 " stroke="#000" stroke-width="1.0" fill="none"/>
<path d="M536.30 469.00 V424.60 H600.90 V430.00" fill="none" stroke="#000" stroke-width="1.6" stroke-linejoin="round" stroke-linecap="butt"/>
<path d="M565.95 421.40 L565.95 419.20 M565.95 421.40 L568.04 420.72 M565.95 421.40 L567.24 423.18 M565.95 421.40 L564.66 423.18 M565.95 421.40 L563.86 420.72 " stroke="#000" stroke-width="1.0" fill="none"/>
<path d="M570.25 421.40 L570.25 419.20 M570.25 421.40 L572.34 420.72 M570.25 421.40 L571.54 423.18 M570.25 421.40 L568.96 423.18 M570.25 421.40 L568.16 420.72 " stroke="#000" stroke-width="1.0" fill="none"/>
<text x="519.40" y="522.00" font-size="11.5" text-anchor="middle" letter-spacing="0.4">Yangjiang</text>
<text x="584.30" y="522.00" font-size="11.5" text-anchor="middle" letter-spacing="0.4">Guanzhong</text>
<text x="430.60" y="372.60" font-size="14.5" text-anchor="start" >I</text>
<text x="457.00" y="481.60" font-size="11" text-anchor="start" transform="rotate(-90 457.00 481.60)" letter-spacing="0.45">WUE&#8201;(kg·m<tspan dx="1.5" dy="-5.5" font-size="9">-3</tspan><tspan dx="1" dy="5.5">)</tspan></text>
<rect x="623.90" y="9.10" width="14.30" height="9.20" fill="#8fbdf7"/>
<text x="645.60" y="17.00" font-size="11.8" text-anchor="start" >Control</text>
<rect x="623.90" y="20.10" width="14.30" height="9.20" fill="#fdbf80"/>
<text x="645.60" y="28.00" font-size="11.8" text-anchor="start" >2h</text>
<rect x="623.90" y="31.50" width="14.30" height="9.20" fill="#b5e8d5"/>
<text x="645.60" y="39.40" font-size="11.8" text-anchor="start" >16h</text>
</svg>
</body></html>
